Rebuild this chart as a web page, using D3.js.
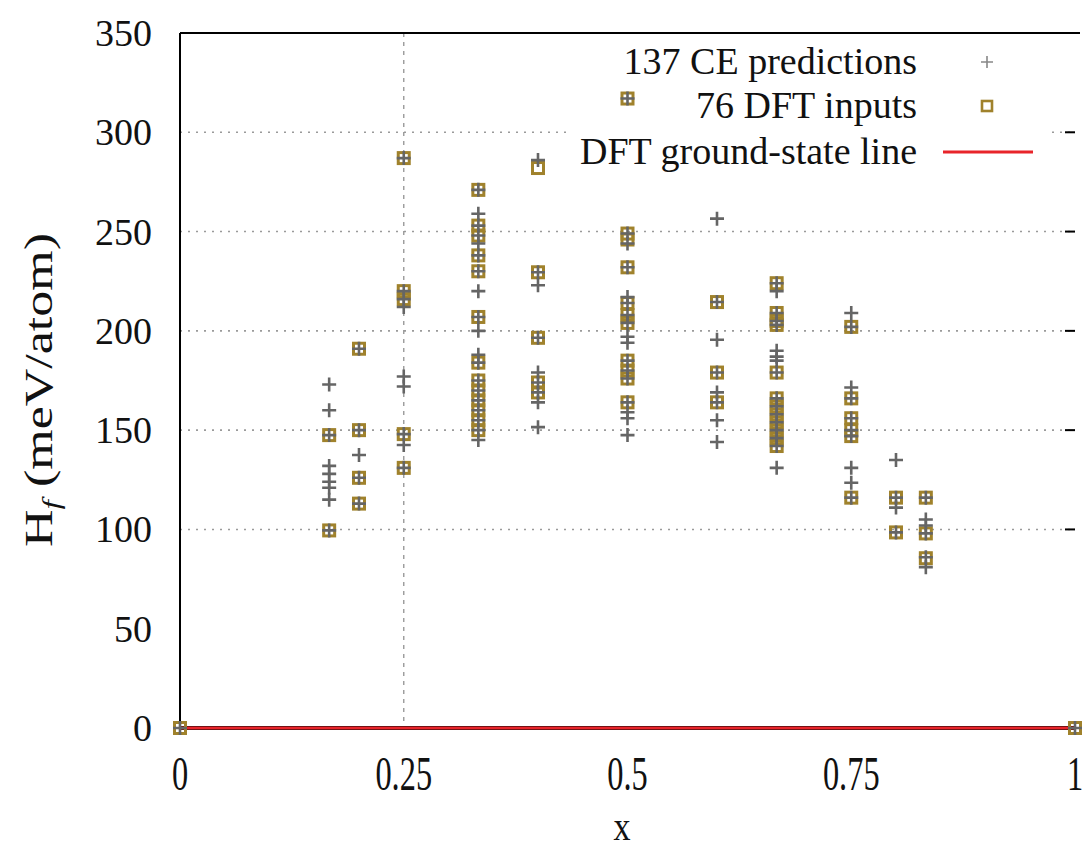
<!DOCTYPE html>
<html>
<head>
<meta charset="utf-8">
<script src="https://cdn.jsdelivr.net/npm/d3@7"></script>
<style>
  html, body { margin: 0; padding: 0; background: #fff; }
  svg { display: block; font-family: "Liberation Serif", "DejaVu Serif", serif; }
</style>
</head>
<body>
<svg id="chart" width="1087" height="852"></svg>
<script>
// compositions x
var compositions = [0, 1/6, 0.2, 0.25, 1/3, 0.4, 0.5, 0.6, 2/3, 0.75, 0.8, 5/6, 1];

// CE predictions (meV/atom), one list per composition
var ceValues = [
  [0],
  [173, 160, 147.5, 132, 128, 124, 121, 115, 99.5],
  [191, 150, 137.5, 126, 113],
  [287, 220, 216, 212, 177, 172, 148, 142.5, 131],
  [271, 259, 253, 248, 244, 238, 230, 220, 207, 200, 188, 184, 175, 170, 165, 160, 155, 150, 145],
  [286, 229.5, 223, 196.5, 179, 174, 169, 164, 151.5],
  [317, 249, 244, 232, 217, 214, 208, 204, 197, 194, 185, 180, 176, 164, 159, 156, 147.5],
  [256.5, 214.5, 195.5, 179, 169, 164, 155, 144],
  [224, 220, 209, 205, 203, 190, 187, 185, 179, 166, 162, 158, 154, 150, 146, 142, 131],
  [209, 202, 171.5, 166, 156, 150, 147, 131, 123.5, 116],
  [135, 116, 111, 98.5],
  [116, 105, 102, 98, 86, 81],
  [0]
];

// DFT inputs (meV/atom), one list per composition
var dftValues = [
  [0],
  [147.5, 99.5],
  [191, 150, 126, 113],
  [287, 220, 216, 148, 131],
  [271, 253, 248, 238, 230, 207, 184, 175, 170, 165, 160, 155, 150],
  [282, 229.5, 196.5, 174, 169],
  [317, 249, 246, 232, 214, 208, 204, 185, 180, 176, 164],
  [214.5, 179, 164],
  [224, 209, 205, 203, 179, 166, 162, 158, 154, 150, 146, 142],
  [202, 166, 156, 150, 147, 116],
  [116, 98.5],
  [116, 98, 85.5],
  [0]
];

var xTicks = [0, 0.25, 0.5, 0.75, 1];
var xTickLabels = ["0", "0.25", "0.5", "0.75", "1"];
var yTicks = [0, 50, 100, 150, 200, 250, 300, 350];
var gridValues = [100, 150, 200, 250, 300];

var legendLabels = ["137 CE predictions", "76 DFT inputs", "DFT ground-state line"];

(function() {
  var svg = d3.select('#chart');

  var plotLeft = 180, plotRight = 1075, plotTop = 33, plotBottom = 728;

  var xScale = d3.scaleLinear().domain([0, 1]).range([plotLeft, plotRight]);
  var yScale = d3.scaleLinear().domain([0, 350]).range([plotBottom, plotTop]);

  var plusColor = '#656565';
  var squareColor = '#a0822c';
  var redColor = '#e8242a';

  // flatten into point lists
  var cePoints = [], dftPoints = [];
  compositions.forEach(function(c, i) {
    ceValues[i].forEach(function(v) { cePoints.push({x: c, y: v}); });
    dftValues[i].forEach(function(v) { dftPoints.push({x: c, y: v}); });
  });

  // horizontal grid
  svg.append('g').selectAll('line').data(gridValues).enter().append('line')
    .attr('x1', plotLeft).attr('x2', plotRight)
    .attr('y1', function(d) { return yScale(d); })
    .attr('y2', function(d) { return yScale(d); })
    .attr('stroke', '#9a9a9a').attr('stroke-width', 1.6)
    .attr('stroke-dasharray', '2,6');

  // vertical grid at 0.25 only
  svg.append('line')
    .attr('x1', xScale(0.25)).attr('x2', xScale(0.25))
    .attr('y1', plotTop).attr('y2', plotBottom)
    .attr('stroke', '#9a9a9a').attr('stroke-width', 1.4)
    .attr('stroke-dasharray', '4,5');

  // legend background
  svg.append('rect')
    .attr('x', 566).attr('y', 40).attr('width', 486).attr('height', 128)
    .attr('fill', '#fff');

  // frame: left, top, bottom
  svg.append('line').attr('x1', plotLeft).attr('x2', plotLeft).attr('y1', plotTop).attr('y2', plotBottom)
    .attr('stroke', '#000').attr('stroke-width', 2);
  svg.append('line').attr('x1', plotLeft).attr('x2', 1080).attr('y1', plotTop).attr('y2', plotTop)
    .attr('stroke', '#000').attr('stroke-width', 2);
  svg.append('line').attr('x1', plotLeft).attr('x2', plotRight).attr('y1', plotBottom).attr('y2', plotBottom)
    .attr('stroke', '#000').attr('stroke-width', 4);

  // right-side tick marks
  svg.append('g').selectAll('line').data(gridValues).enter().append('line')
    .attr('x1', plotRight - 10).attr('x2', plotRight)
    .attr('y1', function(d) { return yScale(d); })
    .attr('y2', function(d) { return yScale(d); })
    .attr('stroke', '#000').attr('stroke-width', 2);

  // y tick labels
  svg.append('g').selectAll('text').data(yTicks).enter().append('text')
    .attr('x', 152)
    .attr('y', function(d) { return yScale(d) + 13; })
    .attr('text-anchor', 'end')
    .attr('font-size', 38)
    .attr('fill', '#111')
    .text(function(d) { return d; });

  // x tick labels (stretched vertically like the original)
  svg.append('g').selectAll('text').data(xTicks).enter().append('text')
    .attr('transform', function(d) { return 'translate(' + xScale(d) + ',790) scale(0.9,1.35)'; })
    .attr('text-anchor', 'middle')
    .attr('font-size', 36)
    .attr('fill', '#111')
    .text(function(d, i) { return xTickLabels[i]; });

  // axis titles
  svg.append('text')
    .attr('transform', 'translate(622,840) scale(1,1.25)')
    .attr('text-anchor', 'middle')
    .attr('font-size', 34)
    .attr('fill', '#111')
    .text('x');

  var yTitle = svg.append('text')
    .attr('transform', 'translate(52,390) rotate(-90) scale(1.3,1)')
    .attr('text-anchor', 'middle')
    .attr('font-size', 40)
    .attr('fill', '#111');
  yTitle.append('tspan').text('H');
  yTitle.append('tspan').attr('font-size', 26).attr('font-style', 'italic').attr('dy', 8).text('f');
  yTitle.append('tspan').attr('dy', -8).text(' (meV/atom)');

  // ground-state line
  svg.append('line')
    .attr('x1', xScale(0)).attr('x2', xScale(1))
    .attr('y1', yScale(0)).attr('y2', yScale(0))
    .attr('stroke', redColor).attr('stroke-width', 3);

  // DFT squares
  svg.append('g').selectAll('rect').data(dftPoints).enter().append('rect')
    .attr('x', function(d) { return xScale(d.x) - 5.5; })
    .attr('y', function(d) { return yScale(d.y) - 5.5; })
    .attr('width', 11).attr('height', 11)
    .attr('fill', 'none')
    .attr('stroke', squareColor).attr('stroke-width', 3);

  // CE pluses
  svg.append('g').selectAll('path').data(cePoints).enter().append('path')
    .attr('d', function(d) {
      var cx = xScale(d.x), cy = yScale(d.y);
      return 'M' + (cx - 7) + ',' + cy + 'H' + (cx + 7) + 'M' + cx + ',' + (cy - 7) + 'V' + (cy + 7);
    })
    .attr('stroke', plusColor).attr('stroke-width', 2.6).attr('fill', 'none');

  // legend
  var legendY = [62, 106, 152];
  svg.append('g').selectAll('text').data(legendLabels).enter().append('text')
    .attr('x', 917)
    .attr('y', function(d, i) { return legendY[i] + 12; })
    .attr('text-anchor', 'end')
    .attr('font-size', 38)
    .attr('fill', '#111')
    .text(function(d) { return d; });

  svg.append('path')
    .attr('d', 'M981,' + legendY[0] + 'H993M987,' + (legendY[0] - 6) + 'V' + (legendY[0] + 6))
    .attr('stroke', '#888').attr('stroke-width', 1.6);
  svg.append('rect')
    .attr('x', 982).attr('y', legendY[1] - 5).attr('width', 10).attr('height', 10)
    .attr('fill', 'none').attr('stroke', squareColor).attr('stroke-width', 2.6);
  svg.append('line')
    .attr('x1', 943).attr('x2', 1033).attr('y1', legendY[2]).attr('y2', legendY[2])
    .attr('stroke', redColor).attr('stroke-width', 3);
})();
</script>
</body>
</html>
